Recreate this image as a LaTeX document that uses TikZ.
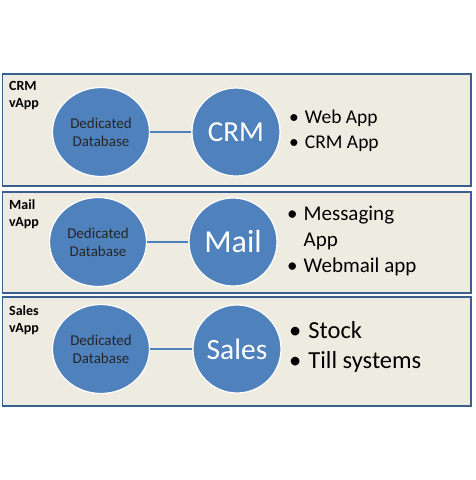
\documentclass[tikz,border=0pt]{standalone}
\usepackage{fontspec}
\setmainfont{Carlito}
\definecolor{panelfill}{HTML}{EEECE1}
\definecolor{panelline}{HTML}{3A5F8E}
\definecolor{circfill}{HTML}{4F81BD}
\tikzset{
  panel/.style={draw=panelline, line width=1.4pt, fill=panelfill},
  dbnode/.style={ellipse, fill=circfill, draw=white, line width=1.2pt, minimum width=97pt, minimum height=89pt, inner sep=0pt, align=center, text=black!85, font=\fontsize{15}{18}\selectfont},
  appnode/.style={circle, fill=circfill, draw=white, line width=1.2pt, minimum size=88pt, inner sep=0pt, text=white},
  link/.style={draw=circfill, line width=1.2pt},
  tag/.style={anchor=north west, inner sep=0pt, align=left, font=\bfseries\fontsize{14}{17}\selectfont},
  listnode/.style={anchor=west, inner sep=0pt}
}
\usetikzlibrary{shapes.geometric}
\begin{document}
\begin{tikzpicture}[x=1pt,y=-1pt]
\useasboundingbox (0,0) rectangle (475,480);
% panels
\draw[panel] (2.5,74) rectangle (471,186);
\draw[panel] (2.5,192) rectangle (471,293);
\draw[panel] (2.5,297) rectangle (471,406);
% labels
\node[tag] (t1) at (9,81.5) {CRM\\vApp};
\node[tag] (t2) at (9,199.5) {Mail\\vApp};
\node[tag] (t3) at (9,305.5) {Sales\\vApp};
% CRM
\node[dbnode] (db1) at (101,132) {Dedicated\\Database};
\node[appnode, font=\fontsize{29}{32}\selectfont] (app1) at (236,132) {CRM};
\draw[link] (db1) -- (app1);
\node[listnode] (l1) at (289,130.5) {\fontsize{19.5}{25}\selectfont\begin{tabular}{@{}l@{\hspace{6pt}}l@{}}\textbullet & Web App\\ \textbullet & CRM App\end{tabular}};
% Mail
\node[dbnode] (db2) at (98,242) {Dedicated\\Database};
\node[appnode, font=\fontsize{32}{36}\selectfont] (app2) at (233,242) {Mail};
\draw[link] (db2) -- (app2);
\node[listnode] (l2) at (287,241) {\fontsize{21}{26}\selectfont\begin{tabular}{@{}l@{\hspace{6pt}}l@{}}\textbullet & Messaging\\ & App\\ \textbullet & Webmail app\end{tabular}};
% Sales
\node[dbnode] (db3) at (101,349) {Dedicated\\Database};
\node[appnode, font=\fontsize{29.5}{32}\selectfont] (app3) at (237,349) {Sales};
\draw[link] (db3) -- (app3);
\node[listnode] (l3) at (289,347) {\fontsize{24.5}{30}\selectfont\begin{tabular}{@{}l@{\hspace{7pt}}l@{}}\textbullet & Stock\\ \textbullet & Till systems\end{tabular}};
\end{tikzpicture}
\end{document}
